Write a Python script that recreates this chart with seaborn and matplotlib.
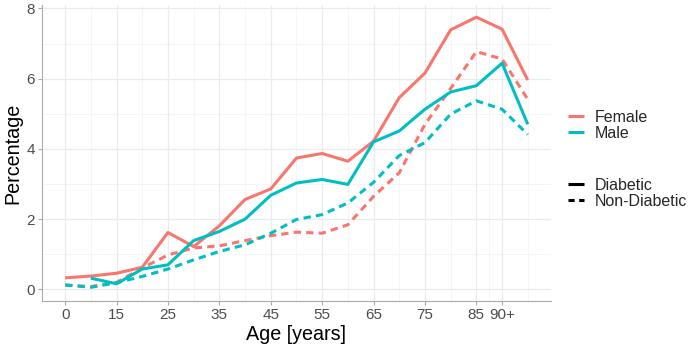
import matplotlib
matplotlib.use("Agg")
import matplotlib.pyplot as plt
from matplotlib.lines import Line2D
import seaborn as sns
import pandas as pd
import numpy as np

# ---- data ----
age_index = list(range(19))
tick_positions = [0, 2, 4, 6, 8, 10, 12, 14, 16, 17]
tick_labels = ["0", "15", "25", "35", "45", "55", "65", "75", "85", "90+"]

female_diabetic = [0.33, 0.38, 0.46, 0.63, 1.62, 1.22, 1.81, 2.56, 2.86, 3.74,
                   3.87, 3.65, 4.22, 5.46, 6.16, 7.39, 7.75, 7.41, 5.96]
male_diabetic = [None, 0.32, 0.16, 0.58, 0.70, 1.39, 1.65, 2.00, 2.68, 3.03,
                 3.13, 2.99, 4.20, 4.51, 5.13, 5.62, 5.80, 6.44, 4.70]
female_nondiabetic = [0.12, 0.08, 0.20, 0.61, 0.98, 1.18, 1.24, 1.39, 1.53, 1.63,
                      1.60, 1.84, 2.65, 3.32, 4.70, 5.72, 6.77, 6.56, 5.41]
male_nondiabetic = [0.13, 0.06, 0.19, 0.37, 0.58, 0.84, 1.08, 1.27, 1.60, 1.99,
                    2.13, 2.46, 3.05, 3.81, 4.18, 4.99, 5.37, 5.13, 4.41]

series = {
    ("Female", "Diabetic"): female_diabetic,
    ("Female", "Non-Diabetic"): female_nondiabetic,
    ("Male", "Diabetic"): male_diabetic,
    ("Male", "Non-Diabetic"): male_nondiabetic,
}
rows = []
for (sex, status), vals in series.items():
    for x, v in zip(age_index, vals):
        if v is not None:
            rows.append({"age": x, "pct": v, "sex": sex, "status": status})
df = pd.DataFrame(rows)

palette = {"Female": "#F8766D", "Male": "#00BFC4"}
dash_pat = (2.4, 1.7)
dashes = {"Diabetic": "", "Non-Diabetic": dash_pat}

sns.set_theme(style="white")
plt.rcParams["font.family"] = ["Liberation Sans", "DejaVu Sans"]

fig = plt.figure(figsize=(7, 3.5), dpi=100)
ax = fig.add_axes([0.06, 0.14, 0.727, 0.846])

# grid
for xm in [1, 3, 5, 7, 9, 11, 13, 15, 16.5, 18]:
    ax.axvline(xm, color="#F2F2F2", lw=0.5, zorder=0)
for ym in [1, 3, 5, 7]:
    ax.axhline(ym, color="#F2F2F2", lw=0.5, zorder=0)
for xM in tick_positions:
    ax.axvline(xM, color="#EBEBEB", lw=0.9, zorder=0)
for yM in [0, 2, 4, 6, 8]:
    ax.axhline(yM, color="#EBEBEB", lw=0.9, zorder=0)

sns.lineplot(data=df, x="age", y="pct", hue="sex", style="status",
             palette=palette, dashes=dashes, linewidth=2.2, ax=ax,
             legend=False, sort=True, units=None, estimator=None)
for ln in ax.get_lines():
    ln.set_solid_capstyle("butt")
    ln.set_dash_capstyle("butt")

ax.set_xlim(-0.9, 18.9)
ax.set_ylim(-0.33, 8.1)
ax.set_xticks(tick_positions)
ax.set_xticklabels(tick_labels)
ax.set_yticks([0, 2, 4, 6, 8])
ax.set_yticklabels(["0", "2", "4", "6", "8"])
ax.tick_params(axis="both", colors="#4D4D4D", labelsize=11, length=3,
               width=0.8, pad=2, bottom=True, left=True)
ax.tick_params(axis="both", color="#AAAAAA")
for side in ["top", "right"]:
    ax.spines[side].set_visible(False)
for side in ["left", "bottom"]:
    ax.spines[side].set_color("#AAAAAA")
    ax.spines[side].set_linewidth(0.8)

ax.set_xlabel("Age [years]", fontsize=14.2, color="black", labelpad=2)
ax.set_ylabel("Percentage", fontsize=14.2, color="black", labelpad=3)

# legends
h_sex = [Line2D([0], [0], color=palette[s], lw=2.2, solid_capstyle="butt") for s in ["Female", "Male"]]
leg1 = fig.legend(h_sex, ["Female", "Male"], loc="upper left",
                  bbox_to_anchor=(0.803, 0.705), frameon=False, fontsize=11.5,
                  handlelength=0.95, handletextpad=0.7, labelspacing=0.06,
                  borderaxespad=0)
h_st = [Line2D([0], [0], color="black", lw=2.2, solid_capstyle="butt"),
        Line2D([0], [0], color="black", lw=2.2, dashes=(2.0, 1.5), dash_capstyle="butt")]
leg2 = fig.legend(h_st, ["Diabetic", "Non-Diabetic"], loc="upper left",
                  bbox_to_anchor=(0.803, 0.51), frameon=False, fontsize=11.5,
                  handlelength=0.95, handletextpad=0.7, labelspacing=0.06,
                  borderaxespad=0)

fig.savefig("out.png", dpi=100)
